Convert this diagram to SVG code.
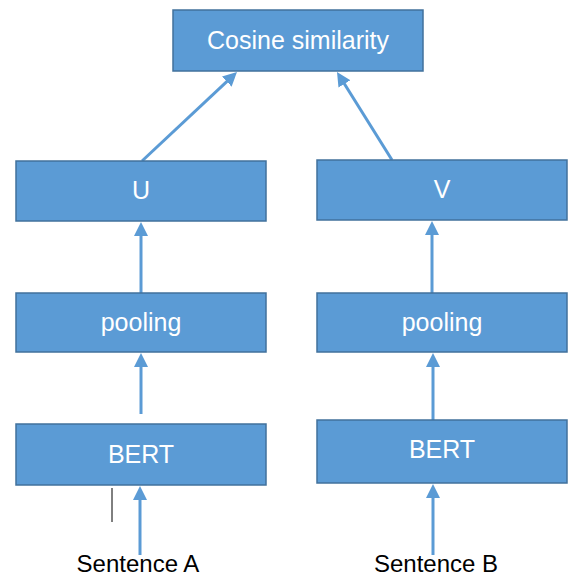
<svg xmlns="http://www.w3.org/2000/svg" width="572" height="577" viewBox="0 0 572 577">
<style>
.box{fill:#5B9BD5;stroke:#41719C;stroke-width:1.5}
.lbl{font-family:"Liberation Sans",Arial,sans-serif;font-size:25px;fill:#FFFFFF;text-anchor:middle}
.ext{font-family:"Liberation Sans",Arial,sans-serif;font-size:24px;fill:#000000;text-anchor:middle}
.conn{stroke:#5B9BD5;stroke-width:3;fill:none;marker-end:url(#ah)}
</style>
<defs>
<marker id="ah" markerUnits="userSpaceOnUse" viewBox="0 0 14 14" markerWidth="14" markerHeight="14" refX="4" refY="7" orient="auto">
<path d="M0,0 L14,7 L0,14 z" fill="#5B9BD5"/>
</marker>
</defs>
<rect width="572" height="577" fill="#FFFFFF"/>
<g id="connectors">
<line class="conn" x1="142" y1="161" x2="229.7" y2="78.8"/>
<line class="conn" x1="392" y1="160" x2="342.3" y2="80.5"/>
<line class="conn" x1="141" y1="293" x2="141" y2="232"/>
<line class="conn" x1="432" y1="293" x2="432" y2="231"/>
<line class="conn" x1="141" y1="414" x2="141" y2="363"/>
<line class="conn" x1="433" y1="420" x2="433" y2="363"/>
<line class="conn" x1="140" y1="555" x2="140" y2="496"/>
<line class="conn" x1="433" y1="555" x2="433" y2="494"/>
</g>
<g id="cosine">
<rect class="box" x="173" y="10" width="250" height="61"/>
<text class="lbl" x="298" y="49">Cosine similarity</text>
</g>
<g id="U">
<rect class="box" x="16" y="161" width="250" height="60"/>
<text class="lbl" x="141" y="199">U</text>
</g>
<g id="V">
<rect class="box" x="317" y="160" width="250" height="60"/>
<text class="lbl" x="442" y="198">V</text>
</g>
<g id="poolingA">
<rect class="box" x="16" y="293" width="250" height="59"/>
<text class="lbl" x="141" y="331">pooling</text>
</g>
<g id="poolingB">
<rect class="box" x="317" y="293" width="250" height="59"/>
<text class="lbl" x="442" y="331">pooling</text>
</g>
<g id="bertA">
<rect class="box" x="16" y="424" width="250" height="61"/>
<text class="lbl" x="141" y="463">BERT</text>
</g>
<g id="bertB">
<rect class="box" x="317" y="420" width="250" height="63"/>
<text class="lbl" x="442" y="458">BERT</text>
</g>
<g id="sentenceA">
<text class="ext" x="138" y="572">Sentence A</text>
</g>
<g id="sentenceB">
<text class="ext" x="436" y="572">Sentence B</text>
</g>
<line x1="112" y1="488" x2="112" y2="522" stroke="#000000" stroke-width="1"/>
</svg>
